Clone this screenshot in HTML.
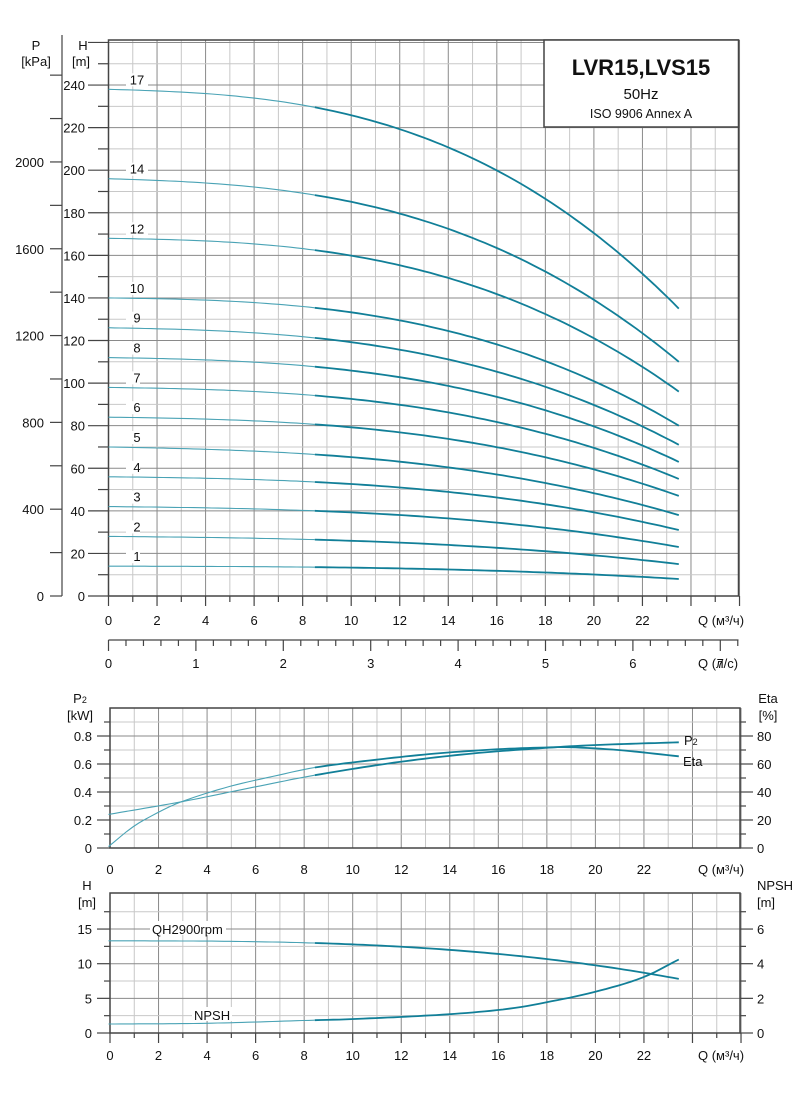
<!DOCTYPE html>
<html><head><meta charset="utf-8"><style>
body{margin:0;background:#fff}
svg{display:block;font-family:"Liberation Sans",sans-serif;}
</style></head><body>
<svg id="s" width="797" height="1094" xmlns="http://www.w3.org/2000/svg"></svg>
<script>
const S=document.getElementById('s');let o='';
const X0=108.5,DX=24.27;const qx=q=>X0+q*DX;
function L(x1,y1,x2,y2,c,w){o+=`<line x1="${x1}" y1="${y1}" x2="${x2}" y2="${y2}" stroke="${c}" stroke-width="${w}"/>`;}
function T(x,y,t,a,sz,extra){o+=`<text x="${x}" y="${y}" font-size="${sz||13}" text-anchor="${a||'middle'}" fill="#111" ${extra||''}>${t}</text>`;}
function slope(p,i){const n=p.length;if(i==0)return (p[1][1]-p[0][1])/(p[1][0]-p[0][0]);if(i==n-1)return (p[n-1][1]-p[n-2][1])/(p[n-1][0]-p[n-2][0]);return (p[i+1][1]-p[i-1][1])/(p[i+1][0]-p[i-1][0]);}
function interp(p,q){let i=0;while(i<p.length-2&&q>p[i+1][0])i++;
 const h=p[i+1][0]-p[i][0],t=(q-p[i][0])/h,t2=t*t,t3=t2*t;
 const m0=slope(p,i)*h,m1=slope(p,i+1)*h;
 return (2*t3-3*t2+1)*p[i][1]+(t3-2*t2+t)*m0+(-2*t3+3*t2)*p[i+1][1]+(t3-t2)*m1;}
function curve(pts,yf,sc){
 let a='',b='';for(let q=0;q<=23.5001;q+=0.25){const v=interp(pts,q)*(sc?sc(q):1);const p=`${qx(q).toFixed(1)},${yf(v).toFixed(1)} `;if(q<=8.5)a+=p;if(q>=8.5)b+=p;}
 o+=`<polyline points="${a}" fill="none" stroke="#4aa3b5" stroke-width="1.1"/>`;
 o+=`<polyline points="${b}" fill="none" stroke="#117f98" stroke-width="1.8"/>`;}
const GL='#c8c8c8',GM='#8a8a8a',AX='#444';
// ===== main chart
const HT=40,HB=596,HY=h=>HB-h*2.129,XR=738.5;
for(let q=0;q<=26;q++)L(qx(q),HT,qx(q),HB,q%2?GL:GM,1);
for(let h=10;h<=260;h+=10)L(X0,HY(h),XR,HY(h),h%20?GL:GM,1);
o+=`<rect x="${X0}" y="${HT}" width="${XR-X0}" height="${HB-HT}" fill="none" stroke="${AX}" stroke-width="1.5"/>`;
o+=`<rect x="544" y="40" width="194.5" height="87" fill="#fff" stroke="${AX}" stroke-width="1.5"/>`;
T(641,75,'LVR15,LVS15','middle',22,'font-weight="bold"');T(641,99,'50Hz','middle',15);T(641,118,'ISO 9906 Annex A','middle',12.5);
for(let h=0;h<=260;h+=10){L(h%20?98:88,HY(h),X0,HY(h),AX,1.2);if(h%20==0&&h<=240)T(85,HY(h)+5,h,'end',13);}
T(83,50,'H','middle',13);T(81,66,'[m]','middle',13);
T(36,50,'P','middle',13);T(36,66,'[kPa]','middle',13);
L(62,35,62,596,AX,1.2);
for(let p=0;p<=2500;p+=100){const y=HB-p/9.81*2.129;if(y<35)break;L(p%200?62:50,y,62,y,AX,1.2);if(p%400==0&&p<=2000)T(44,y+5,p,'end',13);}
for(let q=0;q<=26;q++){L(qx(q),HB,qx(q),HB+(q%2?6:10),AX,1.2);if(q%2==0&&q<=22)T(qx(q),625,q);}
T(698,625,'Q (м³/ч)','start',13);
L(X0,640,XR,640,AX,1.2);
for(let i=0;i<=36;i++){const x=X0+i*0.2*87.4;if(x>XR+1)break;L(x,640,x,i%5?646:651,AX,1.2);if(i%5==0)T(x,668,i/5);}
T(698,668,'Q (л/с)','start',13);
const hf=q=>13.3-5.5*Math.pow(q/23.5,2.8);
const hq=[];for(let q=0;q<=23.5;q+=0.5)hq.push([q,hf(q)]);
const st=[[17,238,135],[14,196,110],[12,168,96],[10,140,80],[9,126,71],[8,112,63],[7,98,55],[6,84,47],[5,70,38],[4,56,31],[3,42,23],[2,28,15],[1,14,8]];
for(const [n,a,e] of st){const k0=a/13.3,k1=e/7.8;curve(hq,HY,q=>k0+(k1-k0)*q/23.5);
 o+=`<rect x="126" y="${HY(a)-16}" width="${n>9?22:14}" height="13" fill="#fff"/>`;T(137,HY(a)-5,n,'middle',13);}
// ===== P2/Eta chart
const PT=708,PB=848,PY=v=>PB-v*140;
for(let q=0;q<=26;q++)L(qx(q)+1.5,PT,qx(q)+1.5,PB,q%2?GL:GM,1);
for(let i=1;i<=9;i++)L(110,PB-i*14,740,PB-i*14,i%2?GL:GM,1);
o+=`<rect x="110" y="${PT}" width="630" height="${PB-PT}" fill="none" stroke="${AX}" stroke-width="1.5"/>`;
for(let i=0;i<=9;i++){const y=PB-i*14;L(i%2?104:97,y,110,y,AX,1.2);L(740,y,i%2?746:753,y,AX,1.2);if(i%2==0&&i<=8){T(92,y+5,i?(i/10).toFixed(1):'0','end',13);T(757,y+5,i*10,'start',13);}}
T(80,703,'P<tspan font-size="9">2</tspan>','middle',13);T(80,720,'[kW]','middle',13);
T(768,703,'Eta','middle',13);T(768,720,'[%]','middle',13);
for(let q=0;q<=26;q++){if(q%2==0&&q<=22)T(qx(q)+1.5,874,q);}
T(698,874,'Q (м³/ч)','start',13);
curve([[0,0.24],[3,0.33],[6,0.435],[8.5,0.52],[12,0.615],[15,0.675],[18,0.715],[20,0.735],[23.5,0.755]],PY);
curve([[0,0.01],[1,0.15],[2,0.25],[3,0.33],[5,0.44],[7,0.52],[8.5,0.575],[11,0.63],[13.5,0.675],[16,0.705],[18,0.718],[19,0.72],[21,0.7],[23.5,0.655]],PY);
T(684,745,'P<tspan font-size="9">2</tspan>','start',13);T(683,766,'Eta','start',13);
// ===== NPSH chart
const NT=893,NB=1033,NY=h=>NB-h*6.93;
for(let q=0;q<=26;q++)L(qx(q)+1.5,NT,qx(q)+1.5,NB,q%2?GL:GM,1);
for(let i=1;i<=7;i++)L(110,NY(i*2.5),740,NY(i*2.5),i%2?GL:GM,1);
o+=`<rect x="110" y="${NT}" width="630" height="${NB-NT}" fill="none" stroke="${AX}" stroke-width="1.5"/>`;
for(let i=0;i<=7;i++){const y=NY(i*2.5);L(i%2?104:97,y,110,y,AX,1.2);L(740,y,i%2?746:753,y,AX,1.2);if(i%2==0){T(92,y+5,i*2.5,'end',13);T(757,y+5,i,'start',13);}}
for(let q=0;q<=26;q++){L(qx(q)+1.5,NB,qx(q)+1.5,NB+(q%2?5:10),AX,1.2);if(q%2==0&&q<=22)T(qx(q)+1.5,1060,q);}
T(698,1060,'Q (м³/ч)','start',13);
T(87,890,'H','middle',13);T(87,907,'[m]','middle',13);
T(775,890,'NPSH','middle',13);T(766,907,'[m]','middle',13);
curve(hq,NY);
curve([[0,1.3],[4,1.4],[8.5,1.85],[10,2.0],[14,2.7],[16.5,3.5],[18,4.4],[20,5.9],[22,8.0],[23.5,10.6]],NY);
o+=`<rect x="150" y="921" width="76" height="14" fill="#fff"/>`;T(152,934,'QH2900rpm','start',13);
o+=`<rect x="192" y="1007" width="40" height="14" fill="#fff"/>`;T(194,1020,'NPSH','start',13);
S.innerHTML=o;
</script>
</body></html>
